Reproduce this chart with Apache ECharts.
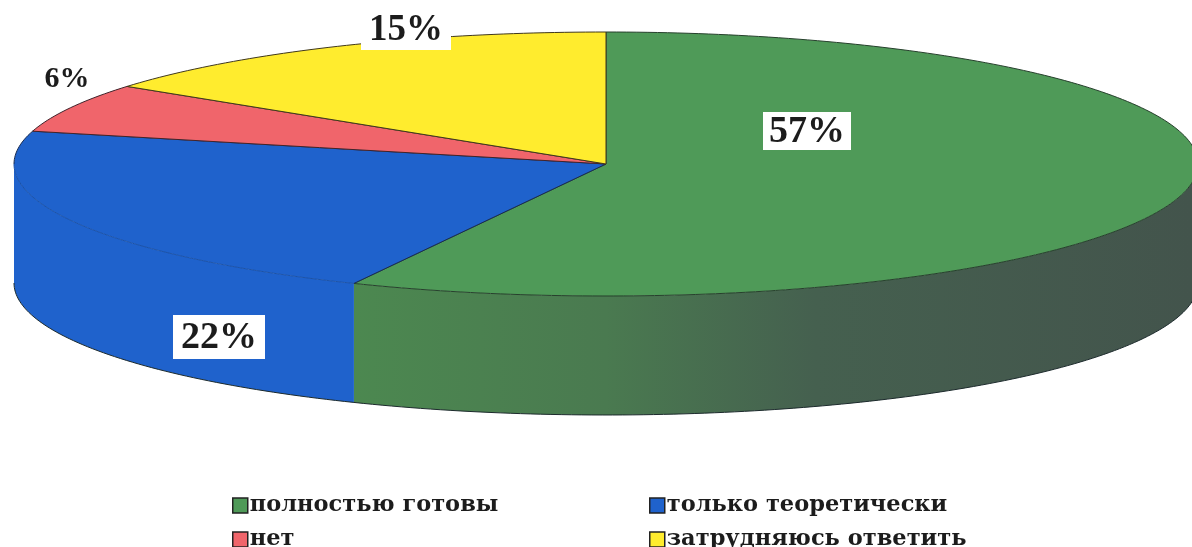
<!DOCTYPE html>
<html>
<head>
<meta charset="utf-8">
<style>
html, body { margin: 0; padding: 0; background: #fff; }
#main { width: 1192px; height: 547px; }
</style>
<script src="https://cdn.jsdelivr.net/npm/echarts@6/dist/echarts.min.js"></script>
</head>
<body>
<div id="main"></div>
<script>
var categories = ['полностью готовы', 'только теоретически', 'нет', 'затрудняюсь ответить'];
var shares = [57, 22, 6, 15];

var myChart = echarts.init(document.getElementById('main'));

// the flattened disc
var cx = 606, cy = 164, rx = 592, ry = 132, depth = 119;
var total = shares.reduce(function (a, b) { return a + b; }, 0);

function pt(deg, dy) {
	var t = deg * Math.PI / 180;
	return [cx + rx * Math.sin(t), cy - ry * Math.cos(t) + (dy || 0)];
}
function arc(from, to, dy) {
	var pts = [];
	var n = Math.max(2, Math.ceil(Math.abs(to - from)));
	for (var i = 0; i <= n; i++) {
		pts.push(pt(from + (to - from) * i / n, dy));
	}
	return pts;
}

var looks = [
	{
		color: '#4f9a58', line: '#26402c', rimLine: '#26402c',
		side: new echarts.graphic.LinearGradient(355, 0, 1192, 0, [
			{ offset: 0, color: '#4c8850' },
			{ offset: 0.3, color: '#4a7a50' },
			{ offset: 0.55, color: '#45604f' },
			{ offset: 1, color: '#43544c' }
		], true),
		label: { x: 807, y: 132, size: 38, box: [44, 19] }
	},
	{
		color: '#1f62cc', line: '#1a2c50', rimLine: '#1b52a8', side: '#1f62cc',
		label: { x: 219, y: 338, size: 38, box: [46, 22] }
	},
	{
		color: '#f0656b', line: '#40242c', rimLine: '#40242c',
		label: { x: 67, y: 79, size: 30 }
	},
	{
		color: '#ffec2e', line: '#40381c', rimLine: '#40381c',
		label: { x: 406, y: 30, size: 37, box: [45, 21] }
	}
];

function buildSlice(index) {
	return function (params, api) {
		var look = looks[index];
		var before = 0;
		for (var i = 0; i < index; i++) before += shares[i];
		var start = before / total * 360;
		var end = start + api.value(0) / total * 360;
		var kids = [];

		// front wall, only the part of the rim facing the viewer
		var a = Math.max(start, 90), b = Math.min(end, 270);
		if (look.side && b > a) {
			kids.push({
				type: 'polygon',
				shape: { points: arc(a, b, 0).concat(arc(b, a, depth)) },
				style: { fill: look.side }
			});
			kids.push({
				type: 'polyline',
				shape: { points: arc(a, b, depth) },
				style: { fill: null, stroke: '#1c2a2c', lineWidth: 1 }
			});
		}

		// top face
		var rim = arc(start, end, 0);
		kids.push({
			type: 'polygon',
			shape: { points: [[cx, cy]].concat(rim) },
			style: { fill: look.color }
		});
		// rim in front is softer on the blue slice
		var split = Math.min(end, Math.max(start, 270));
		if (split > start) {
			kids.push({
				type: 'polyline',
				shape: { points: arc(start, split, 0) },
				style: { fill: null, stroke: look.rimLine, lineWidth: 1 }
			});
		}
		if (end > split) {
			kids.push({
				type: 'polyline',
				shape: { points: arc(split, end, 0) },
				style: { fill: null, stroke: look.line, lineWidth: 1 }
			});
		}
		kids.push({
			type: 'polyline',
			shape: { points: [pt(start, 0), [cx, cy], pt(end, 0)] },
			style: { fill: null, stroke: look.line, lineWidth: 1 }
		});

		// percent label
		var lab = look.label;
		if (lab.box) {
			kids.push({
				type: 'rect',
				shape: { x: lab.x - lab.box[0], y: lab.y - 1 - lab.box[1], width: lab.box[0] * 2, height: lab.box[1] * 2 },
				style: { fill: '#fff' }
			});
		}
		kids.push({
			type: 'text',
			style: {
				x: lab.x, y: lab.y,
				text: api.value(0) + '%',
				font: 'bold ' + lab.size + 'px "Liberation Serif"',
				fill: '#1c1c1c',
				align: 'center', verticalAlign: 'middle'
			}
		});
		return { type: 'group', children: kids };
	};
}

var series = categories.map(function (name, i) {
	return {
		name: name,
		type: 'custom',
		coordinateSystem: 'none',
		renderItem: buildSlice(i),
		itemStyle: { color: looks[i].color },
		data: [[shares[i]]],
		silent: true,
		animation: false
	};
});

function legendAt(left, names) {
	return {
		orient: 'vertical',
		left: left,
		top: 489,
		height: 120,
		padding: 5,
		data: names,
		icon: 'rect',
		itemWidth: 15,
		itemHeight: 15,
		itemGap: 11,
		selectedMode: false,
		itemStyle: { borderColor: '#222', borderWidth: 1.5 },
		textStyle: {
			fontFamily: '"DejaVu Serif"',
			fontWeight: 'bold',
			fontSize: 22.5,
			color: '#1c1c1c',
			padding: [0, 0, 0, -3]
		}
	};
}

option = {
	backgroundColor: '#fff',
	animation: false,
	legend: [
		legendAt(227, [categories[0], categories[2]]),
		legendAt(644, [categories[1], categories[3]])
	],
	series: series
};
myChart.setOption(option);
</script>
</body>
</html>
